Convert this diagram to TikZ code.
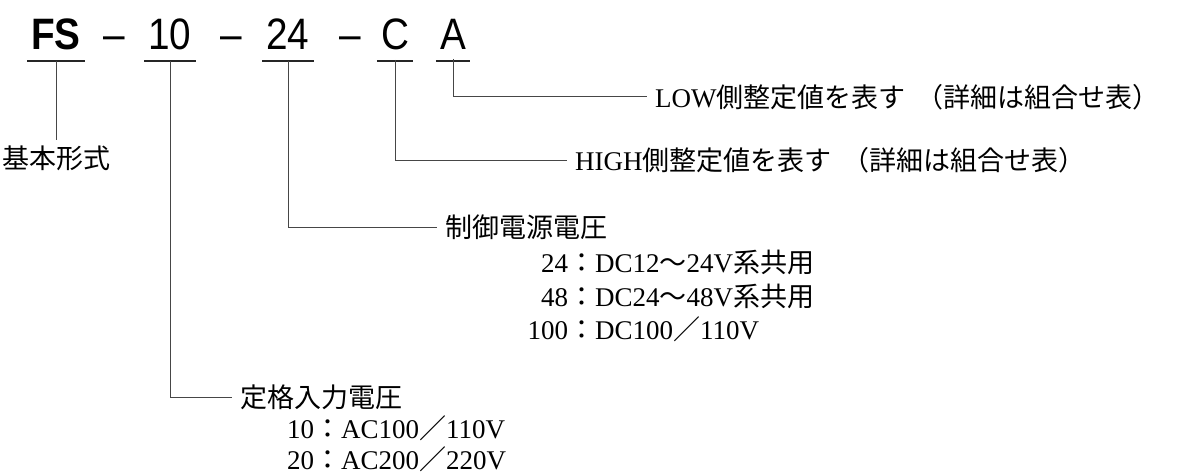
\documentclass[tikz,border=0pt]{standalone}
\usepackage{fontspec}
\setmainfont{Liberation Serif}
\newfontfamily\jp{Noto Sans CJK JP}
\newfontfamily\codefont[FakeStretch=0.88]{Liberation Sans}
\usetikzlibrary{positioning, calc}
\definecolor{lnGray}{RGB}{70, 70, 70}

\begin{document}
\begin{tikzpicture}[x=1pt, y=-1pt,
    code/.style={font=\codefont\fontsize{44}{48}\selectfont, anchor=base, inner sep=0pt},
    uline/.style={line width=1.6pt, color=black!85},
    lead/.style={line width=1pt, color=lnGray},
    lbl/.style={anchor=west, inner sep=0pt, font=\fontsize{27}{30}\selectfont},
    item/.style={anchor=base west, inner sep=0pt, font=\fontsize{27}{30}\selectfont}]
  \useasboundingbox (0,0) rectangle (1191,476);
  % model code
  \node[code, font=\codefont\bfseries\fontsize{44}{48}\selectfont] (fs) at (56,50) {FS};
  \node[code] (d1) at (114,50) {–};
  \node[code] (ten) at (170,50) {10};
  \node[code] (d2) at (231,50) {–};
  \node[code] (tf) at (288,50) {24};
  \node[code] (d3) at (350,50) {–};
  \node[code] (cc) at (395,50) {C};
  \node[code] (aa) at (453,50) {A};
  \foreach \n in {fs, ten, tf, cc, aa}
    \draw[uline] ($(\n.base west)+(-4,11)$) -- ($(\n.base east)+(4,11)$);
  % labels
  \node[lbl, anchor=center] (basic) at (56,158) {\jp 基本形式};
  \node[lbl] (low) at (655,97) {LOW{\jp 側整定値を表す\hspace{0.4em}（詳細は組合せ表）}};
  \node[lbl] (high) at (575,160) {HIGH{\jp 側整定値を表す\hspace{0.4em}（詳細は組合せ表）}};
  \node[lbl] (ctrl) at (445,227) {\jp 制御電源電圧};
  \node[lbl] (rated) at (240,397) {\jp 定格入力電圧};
  \node[item] (c24) at (522,272) {\makebox[1.7em][r]{24}{\jp ：}DC12{\jp ～}24V{\jp 系共用}};
  \node[item] (c48) at (522,306) {\makebox[1.7em][r]{48}{\jp ：}DC24{\jp ～}48V{\jp 系共用}};
  \node[item] (c100) at (522,339) {\makebox[1.7em][r]{100}{\jp ：}DC100{\jp ／}110V};
  \node[item] (r10) at (287,438) {10{\jp ：}AC100{\jp ／}110V};
  \node[item] (r20) at (287,469) {20{\jp ：}AC200{\jp ／}220V};
  % leaders
  \draw[lead] ($(fs.base)+(0,11)$) -- ([yshift=5pt]basic.north);
  \draw[lead] ($(ten.base)+(0,11)$) |- ([xshift=-8pt]rated.west);
  \draw[lead] ($(tf.base)+(0,11)$) |- ([xshift=-8pt]ctrl.west);
  \draw[lead] ($(cc.base)+(0,10)$) |- ([xshift=-8pt]high.west);
  \draw[lead] ($(aa.base)+(0,9)$) |- ([xshift=-8pt]low.west);
\end{tikzpicture}
\end{document}
